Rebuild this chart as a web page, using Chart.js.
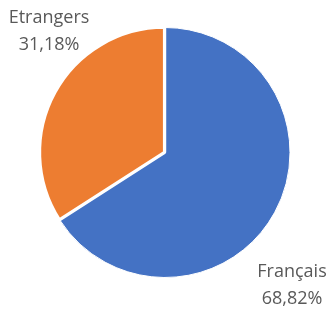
<!DOCTYPE html>
<html><head><meta charset="utf-8">
<script src="https://cdn.jsdelivr.net/npm/chart.js@4.4.0/dist/chart.umd.min.js"></script>
<style>html,body{margin:0;padding:0;background:#fff;}#wrap{width:329px;height:309px;}</style>
</head><body><div id="wrap"><canvas id="c"></canvas></div>
<script>
// Slice shares as drawn in the picture (angles measured), and the printed data labels
const categories = ["Français", "Etrangers"];
const values = [65.9, 34.1];
const valueLabels = ["68,82%", "31,18%"];
const colors = ["#4472C4", "#ED7D31"];

const labelPlugin = {
  id: 'outLabels',
  afterDatasetsDraw(chart) {
    const ctx = chart.ctx;
    const meta = chart.getDatasetMeta(0);
    const c = meta.data[0];
    const pos = [ {dx: 127, dy: 132.5}, {dx: -116, dy: -121} ];
    ctx.save();
    ctx.fillStyle = '#595959';
    ctx.font = '18px "Open Sans", sans-serif';
    ctx.textAlign = 'center';
    ctx.textBaseline = 'middle';
    meta.data.forEach((arc, i) => {
      const cx = c.x + pos[i].dx, cy = c.y + pos[i].dy;
      ctx.fillText(categories[i], cx, cy - 13.5);
      ctx.fillText(valueLabels[i], cx, cy + 13.5);
    });
    ctx.restore();
  }
};

new Chart(document.getElementById('c'), {
  type: 'pie',
  data: {
    labels: categories,
    datasets: [{
      data: values,
      backgroundColor: colors,
      borderColor: '#ffffff',
      borderWidth: [1, 3.3],
      offset: [0, 1.9]
    }]
  },
  options: {
    responsive: true,
    maintainAspectRatio: false,
    animation: false,
    radius: 125,
    layout: { padding: { top: 0, bottom: 4, left: 1, right: 0 } },
    plugins: { legend: { display: false }, tooltip: { enabled: false } }
  },
  plugins: [labelPlugin]
});
</script>
</body></html>
